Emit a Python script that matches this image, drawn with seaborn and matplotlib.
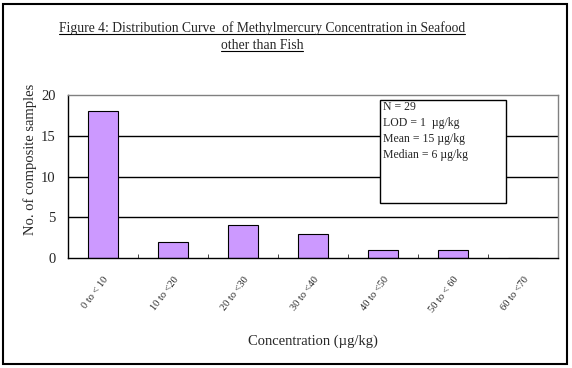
import matplotlib
matplotlib.use("Agg")
import matplotlib.pyplot as plt
import seaborn as sns
import pandas as pd
from matplotlib.patches import Rectangle
from matplotlib.lines import Line2D

# data
bins = ['0 to < 10', '10 to <20', '20 to <30', '30 to <40', '40 to <50', '50 to < 60', '60 to <70']
counts = [18, 2, 4, 3, 1, 1, 0]
stats_lines = ['N = 29', 'LOD = 1  \u00b5g/kg', 'Mean = 15 \u00b5g/kg', 'Median = 6 \u00b5g/kg']

sns.set_style("white")
plt.rcParams['font.family'] = ['Liberation Serif', 'DejaVu Serif']

df = pd.DataFrame({'bin': bins, 'count': counts})

fig = plt.figure(figsize=(5.72, 3.68), dpi=100)
ax = fig.add_axes([68/572, 1-258/368, 490/572, 163/368])

sns.barplot(data=df, x='bin', y='count', color='#CC99FF', width=0.42,
            edgecolor='black', linewidth=0.8, saturation=1, ax=ax)

ax.set_ylim(0, 20)
ax.set_xlim(-0.5, len(bins) - 0.5)
ax.set_yticks([0, 5, 10, 15, 20])
for y in [5, 10, 15]:
    ax.axhline(y, color='black', lw=1, zorder=0)

# spines like the old Excel chart
for s in ['left', 'bottom']:
    ax.spines[s].set_color('black')
    ax.spines[s].set_linewidth(1)
for s in ['top', 'right']:
    ax.spines[s].set_color('#808080')
    ax.spines[s].set_linewidth(1)

ax.tick_params(axis='y', labelsize=10.5, length=0, pad=9)
ax.set_xticks([i + 0.5 for i in range(len(bins))], minor=True)
ax.tick_params(axis='x', which='minor', direction='in', length=3, bottom=True)
ax.tick_params(axis='x', which='major', length=0, labelsize=7.5, pad=12)
ax.set_xticks(range(len(bins)))
ax.set_xticklabels(bins, rotation=53, ha='right', va='top', rotation_mode='anchor')

ax.set_xlabel('Concentration (\u00b5g/kg)', fontsize=10.5, labelpad=15)
ax.set_ylabel('No. of composite samples', fontsize=10.5, labelpad=4)
ax.yaxis.set_label_coords(-0.064, 0.607)

# stats box
ax.add_patch(Rectangle((0.637, 0.337), 0.257, 0.632, transform=ax.transAxes,
                       facecolor='white', edgecolor='black', lw=1, zorder=3))
for i, t in enumerate(stats_lines):
    ax.text(0.642, 0.928 - i * 0.098, t, transform=ax.transAxes, fontsize=8.5,
            va='center', ha='left', zorder=4)

# title with underline
t1 = fig.text(262/572, 1-32/368, 'Figure 4: Distribution Curve  of Methylmercury Concentration in Seafood',
              ha='center', va='baseline', fontsize=9.8)
t2 = fig.text(262/572, 1-49/368, 'other than Fish', ha='center', va='baseline', fontsize=9.8)

fig.canvas.draw()
r = fig.canvas.get_renderer()
for t in [t1, t2]:
    bb = t.get_window_extent(r).transformed(fig.transFigure.inverted())
    yb = t.get_position()[1] - 2/368
    fig.add_artist(Line2D([bb.x0, bb.x1], [yb, yb],
                          transform=fig.transFigure, color='black', lw=0.8))

# outer frame
fig.add_artist(Rectangle((3/572, 4/368), 564/572, 360/368, transform=fig.transFigure,
                         fill=False, edgecolor='black', lw=1.5))

fig.savefig('out.png', dpi=100)
